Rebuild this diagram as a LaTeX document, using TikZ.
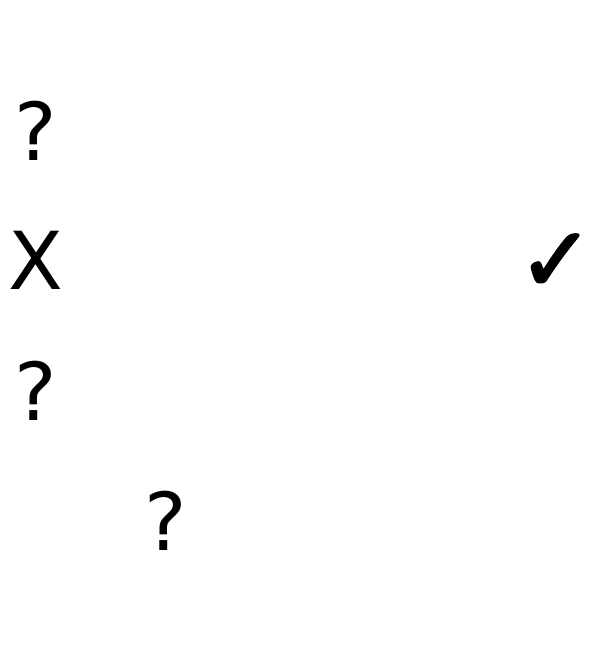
\documentclass[tikz,border=0pt]{standalone}
\usepackage{fontspec}
\setmainfont{DejaVu Sans}
\newfontfamily\checkfont[FakeBold=2.5]{DejaVu Sans}
\begin{document}
\begin{tikzpicture}[x=1pt,y=1pt,
  glyph/.style={anchor=base,inner sep=0pt,font=\fontsize{80}{96}\selectfont}]
\useasboundingbox (0,0) rectangle (605,666);
\node[glyph] (q1) at (36,{666-161}) {?};
\node[glyph] (x2) at (36,{666-290}) {X};
\node[glyph,font=\fontsize{90}{108}\checkfont] (c2) at (556,{666-291}) {✓};
\node[glyph] (q3) at (36,{666-421}) {?};
\node[glyph] (q4) at (166,{666-551}) {?};
\end{tikzpicture}
\end{document}
